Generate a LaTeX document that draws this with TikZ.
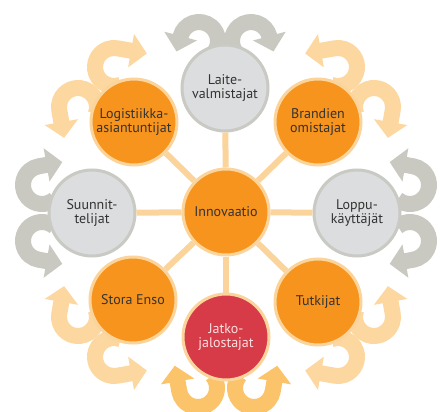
\documentclass[tikz,border=0pt]{standalone}
\usepackage{fontspec}
\setmainfont{PT Sans}
\usetikzlibrary{arrows.meta}

\definecolor{orng}{HTML}{F7941D}
\definecolor{ring}{HTML}{FBD49C}
\definecolor{lgray}{HTML}{DCDDDE}
\definecolor{gring}{HTML}{C9CAC4}
\definecolor{rd}{HTML}{D63B47}
\definecolor{rtxt}{HTML}{FBE1E2}
\definecolor{txt}{HTML}{333333}
\definecolor{garrc}{HTML}{C9C9C1}
\definecolor{oarrc}{HTML}{FDD7A0}
\definecolor{darrc}{HTML}{FBC46B}

\begin{document}
\begin{tikzpicture}[x=1pt,y=1pt,
    bub/.style={circle,minimum size=86pt,inner sep=0pt,line width=3pt,align=center,
      font=\fontsize{14}{13.5}\selectfont,text=txt},
    obub/.style={bub,fill=orng,draw=ring},
    gbub/.style={bub,fill=lgray,draw=gring},
    rbub/.style={bub,fill=rd,draw=ring,text=rtxt},
    spoke/.style={line width=6pt,draw=ring},
    arr/.style={line width=16pt,-{Triangle[length=16pt,width=33pt]}},
    garr/.style={arr,draw=garrc},
    oarr/.style={arr,draw=oarrc},
    darr/.style={arr,draw=darrc}]
    \useasboundingbox (0,0) rectangle (442,-412);
    % kierrot
    \draw[garr] (199,-41) ++(-40:19) arc[start angle=-40,end angle=165,radius=19] -- ++(255:16);
    \draw[garr] (251,-41) ++(220:19) arc[start angle=220,end angle=15,radius=19] -- ++(-75:16);
    \draw[garr] (42,-185) ++(-50:19) arc[start angle=-50,end angle=-260,radius=19] -- ++(10:24);
    \draw[garr] (42,-241) ++(50:19) arc[start angle=50,end angle=260,radius=19] -- ++(-10:24);
    \draw[garr] (410,-185) ++(230:19) arc[start angle=230,end angle=440,radius=19] -- ++(170:24);
    \draw[garr] (410,-241) ++(130:19) arc[start angle=130,end angle=-80,radius=19] -- ++(190:24);
    \draw[darr] (198,-388) ++(40:19) arc[start angle=40,end angle=-170,radius=19] -- ++(100:26);
    \draw[darr] (254,-388) ++(140:19) arc[start angle=140,end angle=350,radius=19] -- ++(80:26);
    \draw[oarr] (78,-107) ++(-20:19) arc[start angle=-20,end angle=190,radius=19] -- ++(280:28);
    \draw[oarr] (114,-67) ++(-70:19) arc[start angle=-70,end angle=-280,radius=19] -- ++(-10:30);
    \draw[oarr] (374,-107) ++(200:19) arc[start angle=200,end angle=-10,radius=19] -- ++(260:28);
    \draw[oarr] (338,-67) ++(250:19) arc[start angle=250,end angle=460,radius=19] -- ++(190:30);
    \draw[oarr] (78,-317) ++(20:19) arc[start angle=20,end angle=-190,radius=19] -- ++(80:28);
    \draw[oarr] (114,-357) ++(70:19) arc[start angle=70,end angle=280,radius=19] -- ++(10:30);
    \draw[oarr] (374,-317) ++(160:19) arc[start angle=160,end angle=370,radius=19] -- ++(100:28);
    \draw[oarr] (338,-357) ++(110:19) arc[start angle=110,end angle=-100,radius=19] -- ++(170:30);
    % pallot
    \node[obub] (inno) at (226,-212) {Innovaatio};
    \node[gbub] (lait) at (225,-88) {Laite-\\valmistajat};
    \node[obub] (logi) at (134,-122) {Logistiikka-\\asiantuntijat};
    \node[obub] (brand) at (318,-122) {Brandien\\omistajat};
    \node[gbub] (suun) at (92,-213) {Suunnit-\\telijat};
    \node[gbub] (loppu) at (357,-213) {Loppu-\\käyttäjät};
    \node[obub] (stora) at (133,-300) {Stora Enso};
    \node[obub] (tutk) at (318,-302) {Tutkijat};
    \node[rbub] (jatko) at (226,-337) {Jatko-\\jalostajat};
    % pinnat
    \foreach \n in {lait,logi,brand,suun,loppu,stora,tutk,jatko}
        \draw[spoke] (inno) -- (\n);
\end{tikzpicture}
\end{document}
